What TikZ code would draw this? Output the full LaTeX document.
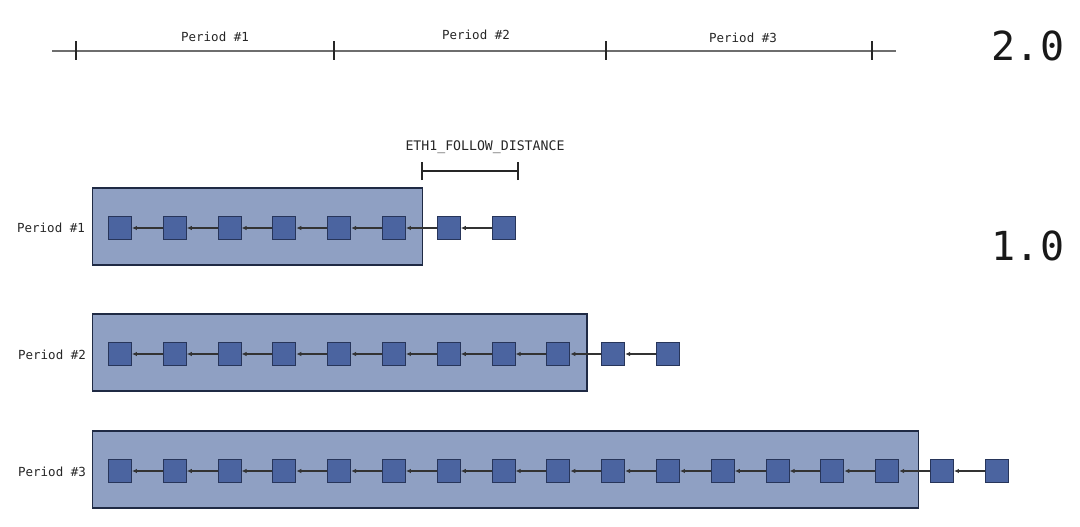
\documentclass[tikz,border=0pt]{standalone}
\usepackage{fontspec}
\newfontfamily\mono{DejaVu Sans Mono}
\usetikzlibrary{arrows.meta}
\definecolor{boxfill}{HTML}{8FA0C3}
\definecolor{boxline}{HTML}{1F2A44}
\definecolor{sqfill}{HTML}{4B64A0}
\definecolor{sqline}{HTML}{27355A}
\definecolor{tline}{HTML}{6E6E6E}
\tikzset{
  blk/.style={draw=sqline, fill=sqfill, line width=0.9pt, minimum size=23pt, inner sep=0pt},
  periodbox/.style={draw=boxline, fill=boxfill, line width=1.2pt},
  link/.style={line width=1.5pt, draw=black!80, -{Latex[length=5pt,width=4.5pt]}},
  lbl/.style={font=\mono\fontsize{12.5}{14}\selectfont, text=black!85, anchor=base, inner sep=0pt},
  big/.style={font=\mono\fontsize{40}{44}\selectfont, text=black!90, anchor=base, inner sep=0pt},
  tick/.style={line width=1.3pt, draw=black!85},
}
\begin{document}
\begin{tikzpicture}[x=1pt,y=-1pt]
\useasboundingbox (0,0) rectangle (1080,527);
% timeline
\coordinate (tlA) at (52,51);
\coordinate (tlB) at (896,51);
\draw[tline, line width=2pt] (tlA) -- (tlB);
\foreach \x [count=\i] in {76,334,606,872} {
  \coordinate (tk\i) at (\x,51);
  \draw[tick] ([yshift=-9pt]tk\i) -- ([yshift=10pt]tk\i);
}
\node[lbl] (p1) at (215,41.7) {Period \#1};
\node[lbl] (p2) at (476,40) {Period \#2};
\node[lbl] (p3) at (743,42.5) {Period \#3};
\node[big] (v2) at (1028,60.7) {2.0};
\node[big] (v1) at (1028,260) {1.0};
% follow distance
\node[lbl, font=\mono\fontsize{13.2}{15}\selectfont] (efd) at (485,150) {ETH1\_FOLLOW\_DISTANCE};
\coordinate (fdA) at (422,171);
\coordinate (fdB) at (518,171);
\draw[tick, line width=1.6pt] (fdA) -- (fdB);
\draw[tick, line width=1.6pt] ([yshift=-9pt]fdA) -- ([yshift=9pt]fdA);
\draw[tick, line width=1.6pt] ([yshift=-9pt]fdB) -- ([yshift=9pt]fdB);
% period boxes
\draw[periodbox] (92.5,188) rectangle (422.5,265);
\draw[periodbox] (92.5,314) rectangle (587,391);
\draw[periodbox] (92.5,431) rectangle (918.5,508);
\node[lbl] (r1) at (51,232) {Period \#1};
\node[lbl] (r2) at (52,359) {Period \#2};
\node[lbl] (r3) at (52,476) {Period \#3};
% rows of blocks
\foreach \row/\y/\n in {a/228/7, b/354/10, c/471/16} {
  \foreach \i in {0,...,\n} {
    \node[blk] (\row\i) at (120+54.8*\i,\y) {};
  }
  \foreach \i in {1,...,\n} {
    \pgfmathtruncatemacro{\k}{\i-1}
    \draw[link] (\row\i.west) -- (\row\k.east);
  }
}
\end{tikzpicture}
\end{document}
